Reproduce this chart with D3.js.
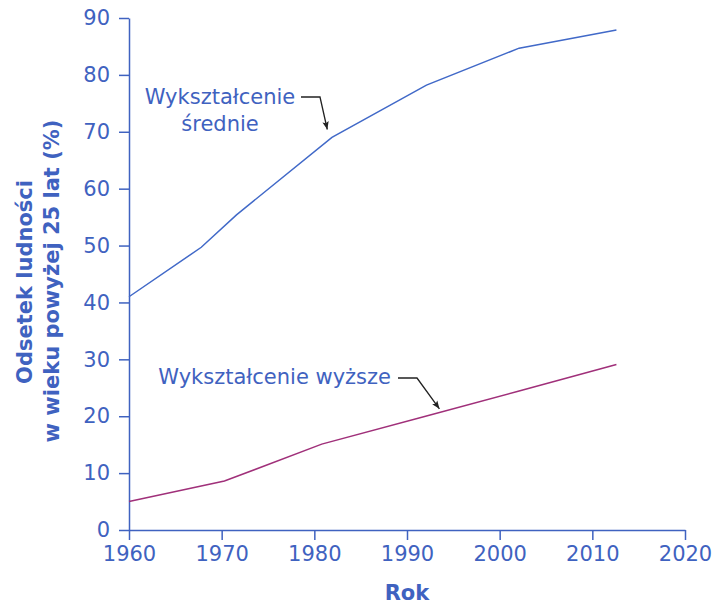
<!DOCTYPE html>
<html>
<head>
<meta charset="utf-8">
<script src="https://cdn.jsdelivr.net/npm/d3@7"></script>
<style>
  body { margin: 0; background: #fff; }
  text { font-family: "DejaVu Sans", sans-serif; }
</style>
</head>
<body>
<div id="chart"></div>
<script>
// values
const yearsHS = [1960, 1967.8, 1971.6, 1981.9, 1992.1, 2002.1, 2012.6];
const highSchool = [41, 49.7, 55.4, 69.0, 78.2, 84.7, 87.9];
const yearsCol = [1960, 1970.3, 1980.8, 1992, 2002, 2012.6];
const college = [5, 8.6, 15.1, 20.0, 24.4, 29.1];
const xTicks = [1960, 1970, 1980, 1990, 2000, 2010, 2020];
const yTicks = [0, 10, 20, 30, 40, 50, 60, 70, 80, 90];

const axisColor = '#3f62c0';
const width = 712, height = 605;
const margin = {left: 129, right: 27, top: 18, bottom: 75};

const svg = d3.select('#chart').append('svg')
        .attr('width', width)
        .attr('height', height);

const x = d3.scaleLinear().domain([1960, 2020]).range([margin.left, width - margin.right]);
const y = d3.scaleLinear().domain([0, 90]).range([height - margin.bottom, margin.top]);

svg.append('defs').append('marker')
        .attr('id', 'arrow')
        .attr('viewBox', '0 0 10 10')
        .attr('refX', 10).attr('refY', 5)
        .attr('markerWidth', 11).attr('markerHeight', 8)
        .attr('markerUnits', 'userSpaceOnUse')
        .attr('orient', 'auto')
        .append('path')
        .attr('d', 'M0,1 L10,5 L0,9 L2,5 Z')
        .attr('fill', '#222');

// axes
const xAxis = svg.append('g')
        .attr('transform', `translate(0,${y(0)})`)
        .call(d3.axisBottom(x).tickValues(xTicks).tickFormat(d3.format('d')).tickSizeInner(10).tickSizeOuter(0).tickPadding(6));
const yAxis = svg.append('g')
        .attr('transform', `translate(${x(1960)},0)`)
        .call(d3.axisLeft(y).tickValues(yTicks).tickSizeInner(10).tickSizeOuter(0).tickPadding(9));

[xAxis, yAxis].forEach(a => {
        a.selectAll('path, line').attr('stroke', axisColor).attr('stroke-width', 1.5);
        a.selectAll('text').attr('fill', axisColor).style('font-size', '21px').style('font-family', '"DejaVu Sans", sans-serif');
});

// lines
const line = d3.line().x(d => x(d[0])).y(d => y(d[1]));
svg.append('path')
        .datum(d3.zip(yearsHS, highSchool))
        .attr('d', line)
        .attr('fill', 'none')
        .attr('stroke', '#4169c8')
        .attr('stroke-width', 1.5);
svg.append('path')
        .datum(d3.zip(yearsCol, college))
        .attr('d', line)
        .attr('fill', 'none')
        .attr('stroke', '#a0307a')
        .attr('stroke-width', 1.5);

// axis titles
svg.append('text')
        .attr('x', x(1990)).attr('y', 600)
        .attr('text-anchor', 'middle')
        .attr('fill', axisColor)
        .style('font-size', '21px').style('font-weight', 'bold')
        .text('Rok');
svg.append('text')
        .attr('transform', 'translate(32,282) rotate(-90)')
        .attr('text-anchor', 'middle')
        .attr('fill', axisColor)
        .style('font-size', '21px').style('font-weight', 'bold')
        .text('Odsetek ludności');
svg.append('text')
        .attr('transform', 'translate(59,281) rotate(-90)')
        .attr('text-anchor', 'middle')
        .attr('fill', axisColor)
        .style('font-size', '21px').style('font-weight', 'bold')
        .text('w wieku powyżej 25 lat (%)');

// annotations
const hs = svg.append('text')
        .attr('text-anchor', 'middle')
        .attr('fill', axisColor)
        .style('font-size', '21px');
hs.append('tspan').attr('x', 220).attr('y', 104).text('Wykształcenie');
hs.append('tspan').attr('x', 220).attr('y', 131).text('średnie');
svg.append('path')
        .attr('d', `M301,97 L320,97 L${x(1981.4)},${y(70.4)}`)
        .attr('fill', 'none').attr('stroke', '#222').attr('stroke-width', 1.3)
        .attr('marker-end', 'url(#arrow)');

svg.append('text')
        .attr('x', 391).attr('y', 384)
        .attr('text-anchor', 'end')
        .attr('fill', axisColor)
        .style('font-size', '21px')
        .text('Wykształcenie wyższe');
svg.append('path')
        .attr('d', `M398,378 L417,378 L${x(1993.5)},${y(21.3)}`)
        .attr('fill', 'none').attr('stroke', '#222').attr('stroke-width', 1.3)
        .attr('marker-end', 'url(#arrow)');
</script>
</body>
</html>
